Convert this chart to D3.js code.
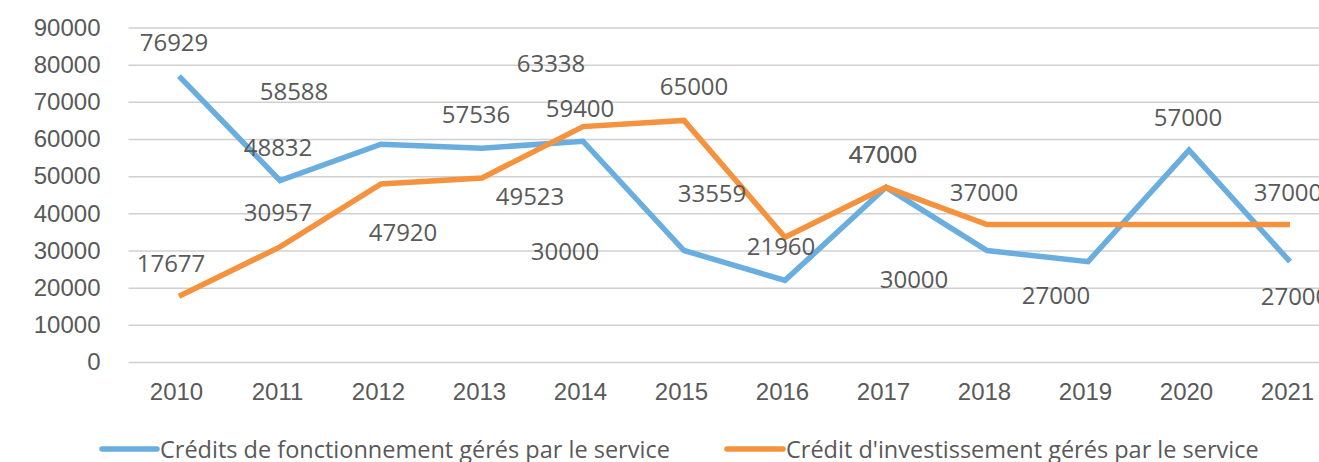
<!DOCTYPE html>
<html>
<head>
<meta charset="utf-8">
<script src="https://cdn.jsdelivr.net/npm/d3@7"></script>
<style>
  html, body { margin: 0; padding: 0; background: #fff; }
  svg { display: block; font-family: "Open Sans", sans-serif; }
  .tick text, .label, .legend-text { fill: #595959; }
</style>
</head>
<body>
<div id="chart"></div>
<script>
// données
const years = ["2010","2011","2012","2013","2014","2015","2016","2017","2018","2019","2020","2021"];
const fonctionnement = [76929, 48832, 58588, 57536, 59400, 30000, 21960, 47000, 30000, 27000, 57000, 27000];
const investissement = [17677, 30957, 47920, 49523, 63338, 65000, 33559, 47000, 37000, 37000, 37000, 37000];
const yTicks = [0, 10000, 20000, 30000, 40000, 50000, 60000, 70000, 80000, 90000];
const seriesNames = ["Crédits de fonctionnement gérés par le service", "Crédit d'investissement gérés par le service"];

// décalage des étiquettes (px), placées à la main dans l'original ; null = pas d'étiquette
const fonctLabelShift = [[-5,-35],[-2,-34],[-87,-54],[-6,-35],[-3,-34],[-119,0],[-4,-35],[-3,-34],[-73,28],[-32,33],[-1,-34],[5,34]];
const investLabelShift = [[-8,-34],[-2,-35],[22,48],[48,18],[-32,-64],[10,-35],[-73,-45],[-3,-34],[-3,-33],null,null,[-2,-33]];

const width = 1319, height = 462;
const plot = {left: 128.5, right: 1340.5, top: 27.5, bottom: 362};
const colors = ["#6aaee0", "#f5923e"];

const svg = d3.select("#chart").append("svg")
  .attr("width", width)
  .attr("height", height);

const x = d3.scalePoint()
  .domain(years)
  .range([plot.left, plot.right])
  .padding(0.5);

const y = d3.scaleLinear()
  .domain([0, 90000])
  .range([plot.bottom, plot.top]);

// lignes horizontales + étiquettes de l'axe y
const gridG = svg.append("g")
  .attr("transform", "translate(" + plot.left + ",0)")
  .call(d3.axisLeft(y).tickValues(yTicks).tickSize(-(plot.right - plot.left)).tickPadding(28).tickFormat(d => String(d)));
gridG.select(".domain").remove();
gridG.selectAll(".tick line").attr("stroke", "#d0d0d0").attr("stroke-width", 1.5);
gridG.selectAll(".tick text").style("font-size", "24px");

// axe x
const xAxisG = svg.append("g")
  .attr("transform", "translate(0," + plot.bottom + ")")
  .call(d3.axisBottom(x).tickSize(0).tickPadding(21));
xAxisG.select(".domain").remove();
xAxisG.selectAll(".tick text").style("font-size", "24px").attr("dx", -3);

const line = d3.line()
  .x((d, i) => x(years[i]))
  .y(d => y(d));

const allSeries = [fonctionnement, investissement];
const allShifts = [fonctLabelShift, investLabelShift];

allSeries.forEach((values, s) => {
  svg.append("path")
    .datum(values)
    .attr("fill", "none")
    .attr("stroke", colors[s])
    .attr("stroke-width", 5.5)
    .attr("stroke-linejoin", "miter")
    .attr("d", line);
});

allSeries.forEach((values, s) => {
  svg.append("g")
    .selectAll("text")
    .data(values.map((v, i) => ({v: v, i: i, shift: allShifts[s][i]})).filter(d => d.shift))
    .enter()
    .append("text")
      .classed("label", true)
      .attr("x", d => x(years[d.i]) + d.shift[0])
      .attr("y", d => y(d.v) + d.shift[1])
      .attr("text-anchor", "middle")
      .attr("dominant-baseline", "central")
      .style("font-size", "24px")
      .text(d => d.v);
});

// légende
const legendPos = [[102, 157], [727, 783]];
const legend = svg.append("g");
seriesNames.forEach((name, s) => {
  legend.append("line")
    .attr("x1", legendPos[s][0])
    .attr("x2", legendPos[s][1])
    .attr("y1", 449)
    .attr("y2", 449)
    .attr("stroke", colors[s])
    .attr("stroke-width", 5.5)
    .attr("stroke-linecap", "round");
  legend.append("text")
    .classed("legend-text", true)
    .attr("x", legendPos[s][1] + 3)
    .attr("y", 449)
    .attr("dominant-baseline", "central")
    .style("font-size", "23.5px")
    .text(name);
});
</script>
</body>
</html>
